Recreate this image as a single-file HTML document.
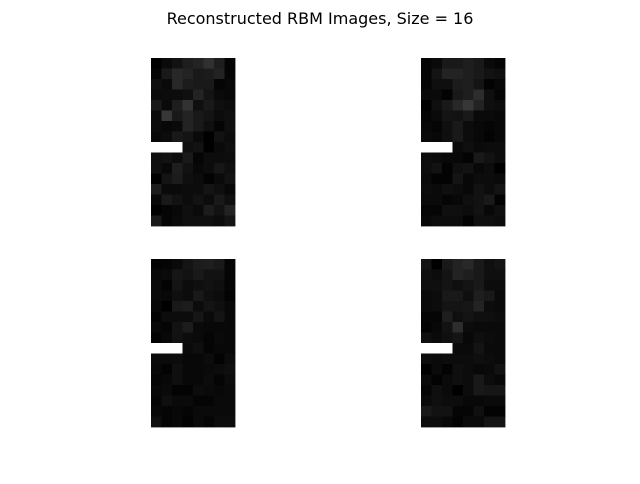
<!DOCTYPE html>
<html><head><meta charset="utf-8"><style>
body{margin:0;background:#fff;width:640px;height:480px;overflow:hidden;font-family:"DejaVu Sans","Liberation Sans",sans-serif}
</style></head><body>
<svg id="fig" width="640" height="480">
<text x="320" y="24" text-anchor="middle" font-size="16" fill="#000">Reconstructed RBM Images, Size = 16</text>
</svg>
<script>
// gray levels (0-255), 16 rows x 8 cols; -1 = white (missing)
const img1 = [
[0,10,18,30,35,48,30,5],[5,25,40,35,25,28,35,5],[15,10,40,28,25,25,5,8],[10,12,12,15,35,20,10,8],
[25,10,30,50,15,25,15,12],[10,55,25,35,25,20,12,15],[12,8,10,35,25,15,5,15],[8,12,25,20,10,0,18,12],
[-1,-1,-1,15,18,0,10,15],[15,18,12,25,5,12,12,12],[15,8,30,18,8,12,22,15],[0,20,28,15,12,3,10,18],
[28,10,10,12,12,20,15,8],[8,25,18,12,18,12,25,15],[0,5,8,15,10,28,18,35],[25,5,10,15,15,15,12,20]];
const img2 = [
[5,10,25,25,30,25,10,5],[5,20,35,35,30,25,18,15],[5,15,15,28,30,20,3,8],[10,10,3,25,30,45,15,5],
[0,15,25,40,55,35,15,12],[5,10,20,18,25,10,10,8],[8,5,15,25,12,8,5,8],[10,8,15,25,12,8,3,8],
[-1,-1,-1,10,15,10,12,12],[12,10,8,8,3,25,18,12],[12,18,3,15,18,8,12,0],[10,3,3,20,8,12,12,10],
[12,10,15,12,8,18,12,20],[10,10,5,8,15,18,25,3],[5,5,15,15,12,18,8,15],[8,12,12,12,3,15,15,12]];
const img3 = [
[3,5,10,20,28,30,25,5],[8,10,22,18,25,18,18,5],[10,3,20,12,15,18,15,5],[10,8,15,12,25,15,12,3],
[8,0,25,28,12,20,15,8],[3,12,12,12,22,10,20,8],[8,5,18,28,10,8,8,8],[3,8,18,12,10,5,10,8],
[-1,-1,-1,10,15,5,8,8],[10,10,12,8,8,12,3,12],[8,3,15,8,8,10,12,15],[5,8,15,8,8,12,5,12],
[8,10,3,3,12,10,8,10],[5,15,10,10,5,5,10,10],[8,5,8,5,10,10,10,10],[15,5,8,3,10,5,12,12]];
const img4 = [
[20,0,25,35,40,25,15,20],[15,12,20,35,30,25,15,15],[15,15,20,15,20,25,12,12],[10,12,25,25,15,30,25,10],
[10,12,20,20,22,35,12,10],[5,5,30,15,20,15,15,12],[3,8,18,45,12,10,10,10],[15,10,15,20,8,15,12,10],
[-1,-1,-1,10,10,20,10,10],[12,10,12,12,12,15,12,10],[0,10,3,15,12,8,10,18],[10,3,10,15,12,25,12,8],
[5,15,10,0,12,25,22,22],[10,15,12,12,8,8,10,10],[25,18,18,5,5,15,3,3],[12,12,8,3,10,10,20,20]];
const images = [img1, img2, img3, img4];
const origins = [[151,58],[421,58],[151,259],[421,259]];
const W = 84, H = 168;
const svg = document.getElementById('fig');
const NS = 'http://www.w3.org/2000/svg';
images.forEach((img, k) => {
  const g = document.createElementNS(NS, 'g');
  
  
  const rows = img.length, cols = img[0].length;
  const cw = W / cols, ch = H / rows;
  const xs = c => origins[k][0] + c * cw;
  const ys = r => origins[k][1] + r * ch;
  img.forEach((row, r) => row.forEach((v, c) => {
    const rect = document.createElementNS(NS, 'rect');
    rect.setAttribute('x', xs(c)); rect.setAttribute('y', ys(r));
    rect.setAttribute('width', cw + 0.4); rect.setAttribute('height', ch + 0.4);
    const g2 = v < 0 ? 255 : v;
    rect.setAttribute('fill', `rgb(${g2},${g2},${g2})`);
    
    
    g.appendChild(rect);
  }));
  svg.appendChild(g);
});
</script>
</body></html>
